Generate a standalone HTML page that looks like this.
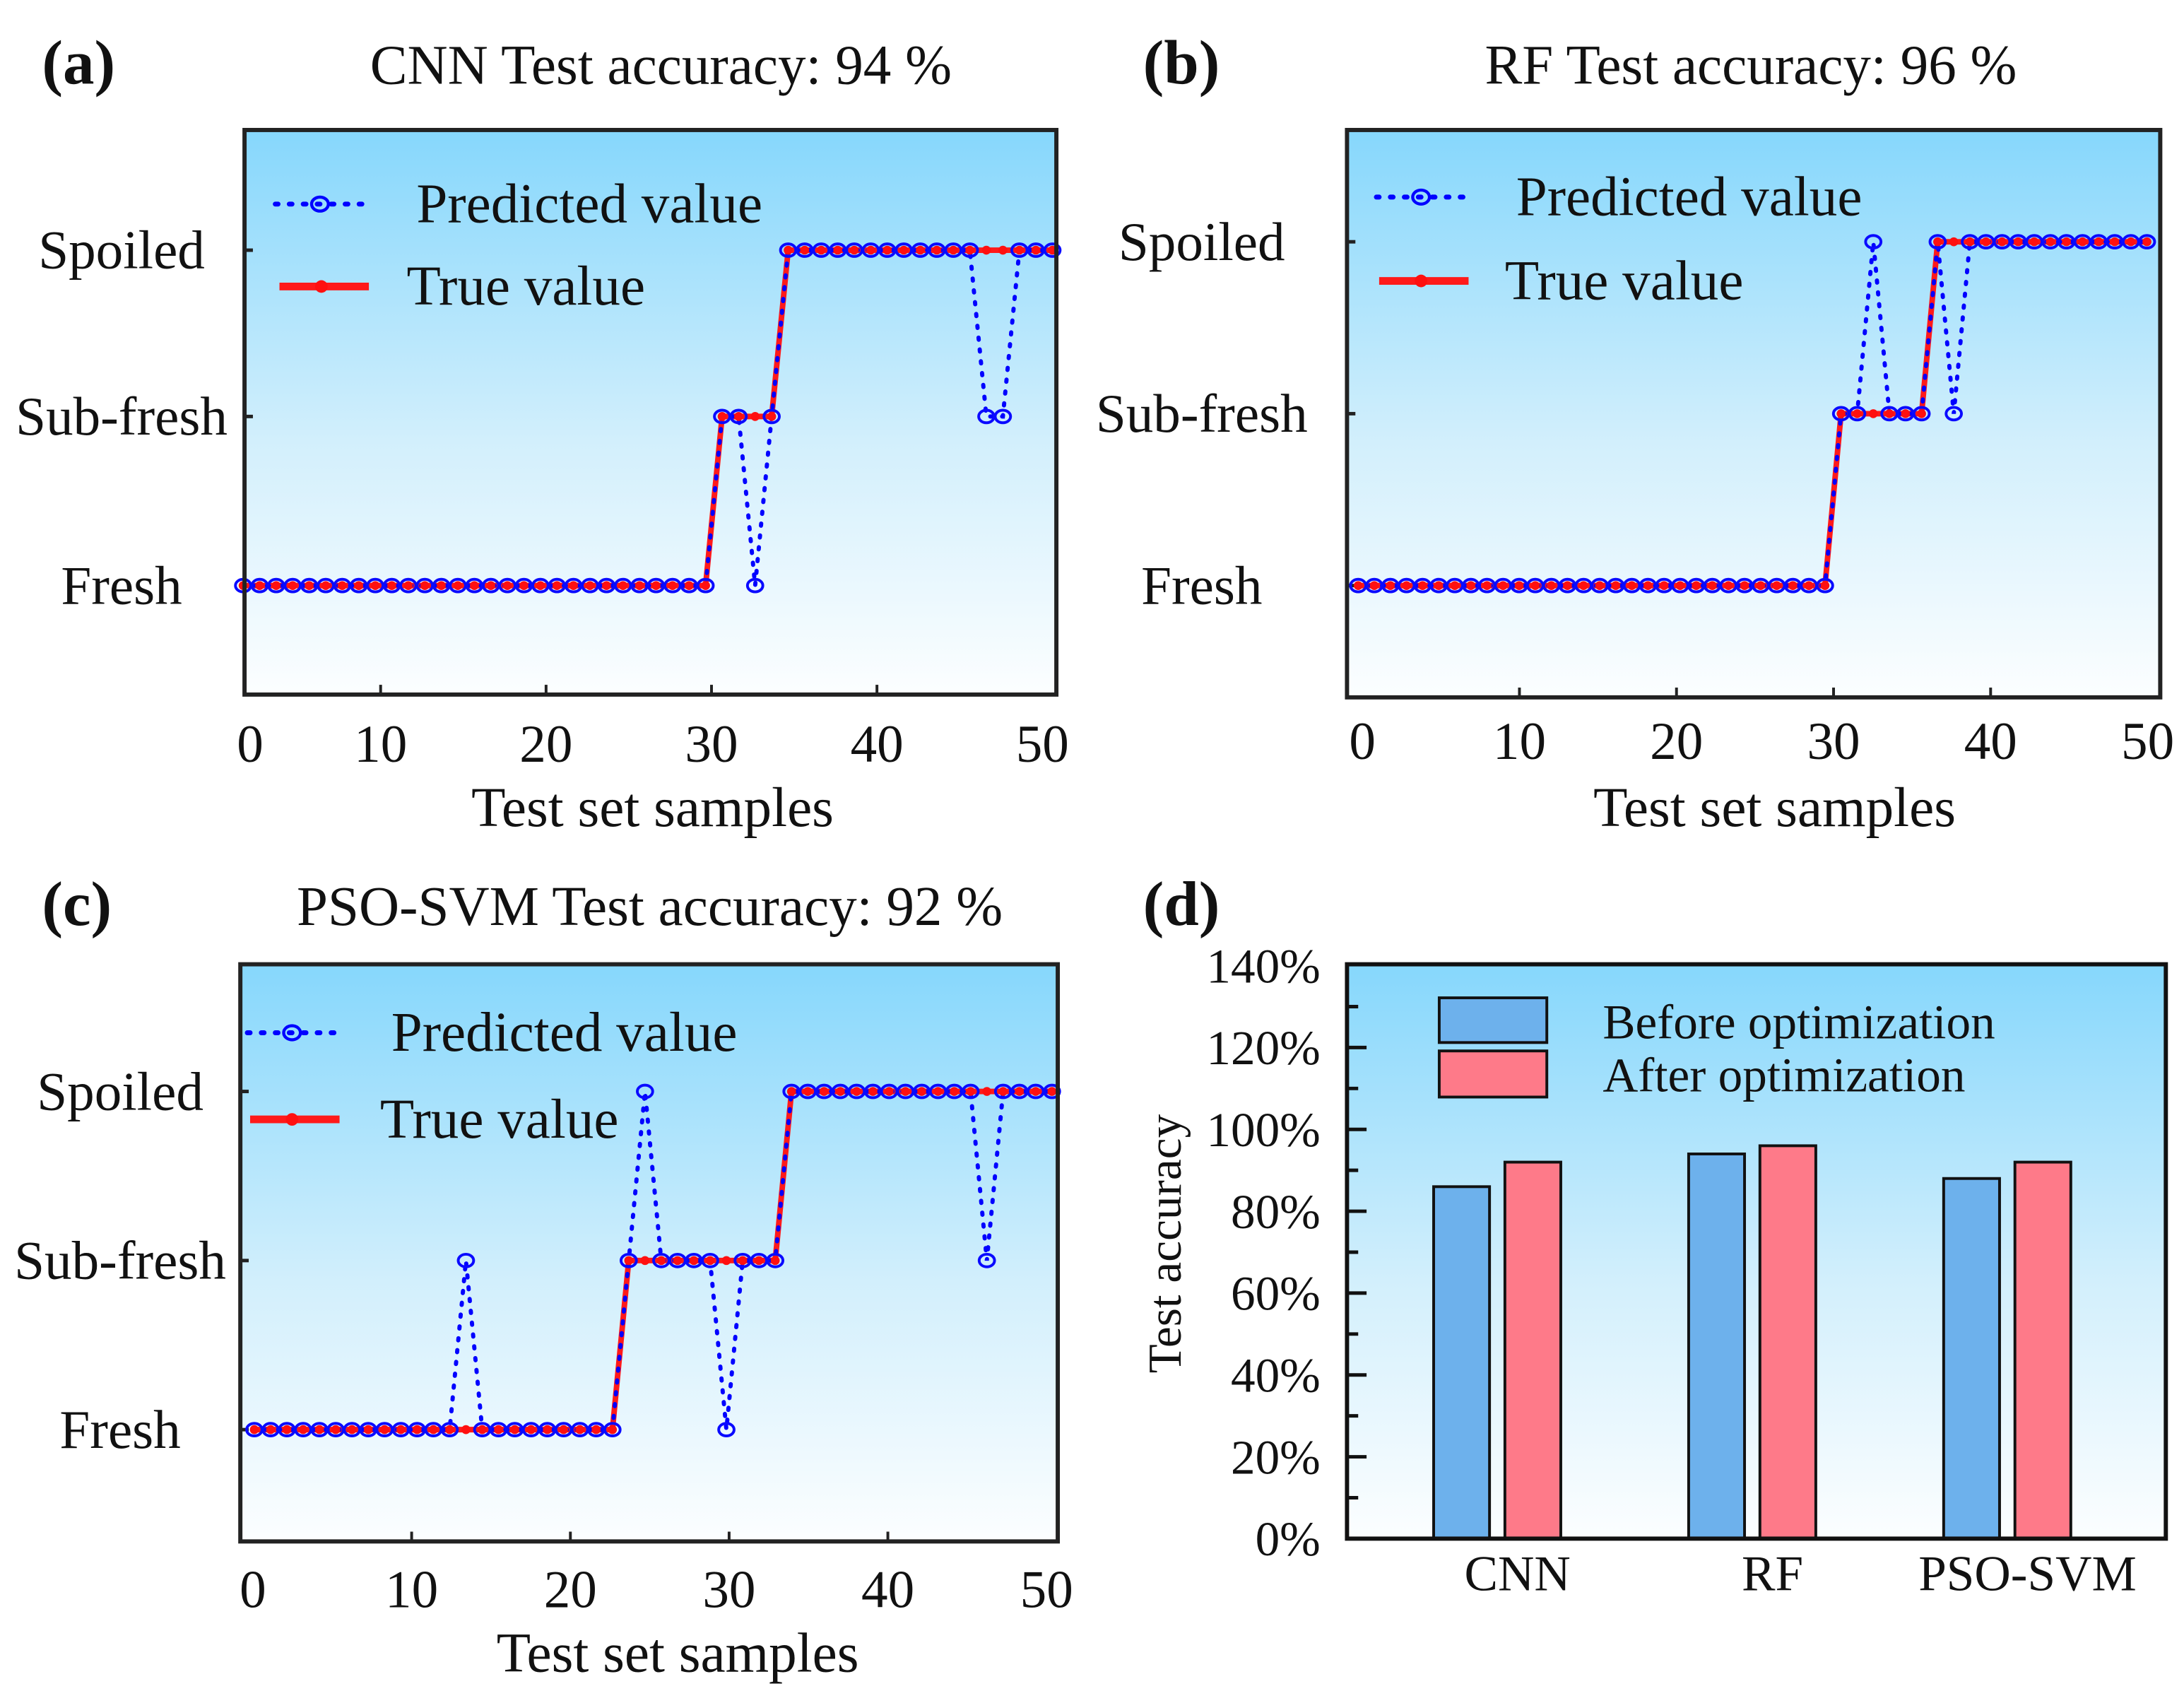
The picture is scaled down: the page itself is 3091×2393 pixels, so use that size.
<!DOCTYPE html>
<html><head><meta charset="utf-8">
<style>
html,body{margin:0;padding:0;background:#fff;}
svg{display:block;font-family:"Liberation Serif",serif;}
</style></head>
<body>
<svg id="fig" width="3091" height="2393" viewBox="0 0 1563 1210" xmlns="http://www.w3.org/2000/svg">
<defs>
<linearGradient id="bg" x1="0" y1="0" x2="0" y2="1">
<stop offset="0" stop-color="#86d7fc"/>
<stop offset="0.55" stop-color="#d2effc"/>
<stop offset="1" stop-color="#fcfeff"/>
</linearGradient>
</defs>
</svg>
<script>
// ---- data ----
const levelNames = ["Fresh","Sub-fresh","Spoiled"];
const trueA = [0,0,0,0,0,0,0,0,0,0,0,0,0,0,0,0,0,0,0,0,0,0,0,0,0,0,0,0,0,1,1,1,1,2,2,2,2,2,2,2,2,2,2,2,2,2,2,2,2,2];
const predA = [0,0,0,0,0,0,0,0,0,0,0,0,0,0,0,0,0,0,0,0,0,0,0,0,0,0,0,0,0,1,1,0,1,2,2,2,2,2,2,2,2,2,2,2,2,1,1,2,2,2];
const trueB = [0,0,0,0,0,0,0,0,0,0,0,0,0,0,0,0,0,0,0,0,0,0,0,0,0,0,0,0,0,0,1,1,1,1,1,1,2,2,2,2,2,2,2,2,2,2,2,2,2,2];
const predB = [0,0,0,0,0,0,0,0,0,0,0,0,0,0,0,0,0,0,0,0,0,0,0,0,0,0,0,0,0,0,1,1,2,1,1,1,2,1,2,2,2,2,2,2,2,2,2,2,2,2];
const trueC = [0,0,0,0,0,0,0,0,0,0,0,0,0,0,0,0,0,0,0,0,0,0,0,1,1,1,1,1,1,1,1,1,1,2,2,2,2,2,2,2,2,2,2,2,2,2,2,2,2,2];
const predC = [0,0,0,0,0,0,0,0,0,0,0,0,0,1,0,0,0,0,0,0,0,0,0,1,2,1,1,1,1,0,1,1,1,2,2,2,2,2,2,2,2,2,2,2,2,1,2,2,2,2];
const xTicks = [0,10,20,30,40,50];
const barCats = ["CNN","RF","PSO-SVM"];
const barBefore = [86,94,88];
const barAfter = [92,96,92];
const yTicksD = [0,20,40,60,80,100,120,140];

const NS="http://www.w3.org/2000/svg";
const svg=document.getElementById('fig');
function mk(tag,attrs,parent){const e=document.createElementNS(NS,tag);for(const k in attrs)e.setAttribute(k,attrs[k]);(parent||svg).appendChild(e);return e;}
function txt(s,attrs,parent){const e=mk('text',attrs,parent);e.textContent=s;return e;}

function linePanel(o){
  const g=mk('g',{});
  
  
  const r=mk('rect',{x:o.L,y:o.T,width:o.R-o.L,height:o.B-o.T,fill:'url(#bg)'},g);
  
  
  const yS=v=>o.ly[v];
  const pX=i=>o.p0+i*o.pstep;
  const tX=v=>o.t0+v*o.tstep;
  levelNames.forEach((n,k)=>{
    const tk=mk('line',{x1:o.L,x2:o.L+6,y1:yS(k),y2:yS(k),stroke:'#222','stroke-width':2.5},g);
    
    
    const t=txt(n,{x:o.ylx,y:yS(k)+13,'font-size':39,'text-anchor':'middle',fill:'#111'},g);
    
    
  });
  xTicks.forEach(v=>{
    const x=tX(v);
    if(v>0&&v<50){const tk=mk('line',{x1:x,x2:x,y1:o.B,y2:o.B-7,stroke:'#222','stroke-width':2},g);
      
      }
    const t=txt(String(v),{x:Math.max(x,o.L+4),y:o.xly,'font-size':38,'text-anchor':'middle',fill:'#111'},g);
    
    
  });
  let d='';o.tr.forEach((v,i)=>{d+=(i?'L':'M')+pX(i)+' '+yS(v);});
  const tl=mk('path',{d:d,fill:'none',stroke:'#ff1a1a','stroke-width':4},g);
  
  
  let d2='';o.pr.forEach((v,i)=>{d2+=(i?'L':'M')+pX(i)+' '+yS(v);});
  const pl=mk('path',{d:d2,fill:'none',stroke:'#0000ff','stroke-width':3,'stroke-dasharray':'1.5 7','stroke-linecap':'round'},g);
  
  
  o.pr.forEach((v,i)=>{
    const c=mk('ellipse',{cx:pX(i),cy:yS(v),rx:5.5,ry:4.5,fill:'none',stroke:'#0a0aff','stroke-width':2},g);
    
    
  });
  o.tr.forEach((v,i)=>{
    const c=mk('circle',{cx:pX(i),cy:yS(v),r:3.2,fill:'#ff1010'},g);
    
    
  });
  const bx=mk('rect',{x:o.L,y:o.T,width:o.R-o.L,height:o.B-o.T,fill:'none',stroke:'#222','stroke-width':3},g);
  
  
  const lg=mk('g',{},g);
  
  
  mk('line',{x1:o.lg[0],x2:o.lg[0]+64,y1:o.lg[1],y2:o.lg[1],stroke:'#0000ff','stroke-width':3.5,'stroke-dasharray':'2 8','stroke-linecap':'round'},lg);
  mk('ellipse',{cx:o.lg[0]+32,cy:o.lg[1],rx:6,ry:5,fill:'none',stroke:'#0000ff','stroke-width':2.2},lg);
  const t1=txt('Predicted value',{x:o.lg[2],y:o.lg[1]+13,'font-size':40,fill:'#111'},lg);
  
  
  mk('line',{x1:o.lg[3],x2:o.lg[3]+64,y1:o.lg[4],y2:o.lg[4],stroke:'#ff1a1a','stroke-width':5.5},lg);
  mk('circle',{cx:o.lg[3]+30,cy:o.lg[4],r:4.5,fill:'#ff1010'},lg);
  const t2=txt('True value',{x:o.lg[5],y:o.lg[4]+13,'font-size':40,fill:'#111'},lg);
  
  
  const ti=txt(o.title,{x:o.tcx,y:o.ty,'font-size':40,'text-anchor':'middle',fill:'#111'},g);
  
  
  const pl2=txt(o.label,{x:o.labx,y:o.ty,'font-size':45,'font-weight':'bold',fill:'#111'},g);
  
  
  const xt=txt('Test set samples',{x:o.xtx,y:o.xty,'font-size':40,'text-anchor':'middle',fill:'#111'},g);
  
  
}

linePanel({name:'panel-a-cnn',L:175,T:93,R:756,B:497,ly:[419,298,179],p0:174,pstep:11.82,t0:154,tstep:11.84,
  tr:trueA,pr:predA,ylx:87,xly:545,lg:[197,146,298,200,205,291],title:'CNN Test accuracy: 94 %',tcx:473,ty:60,label:'(a)',labx:30,xtx:467,xty:591});
linePanel({name:'panel-b-rf',L:964,T:93,R:1546,B:499,ly:[419,296,173],p0:972,pstep:11.52,t0:975,tstep:11.24,
  tr:trueB,pr:predB,ylx:860,xly:543,lg:[985,141,1085,987,201,1077],title:'RF Test accuracy: 96 %',tcx:1253,ty:60,label:'(b)',labx:818,xtx:1270,xty:591});
linePanel({name:'panel-c-pso-svm',L:172,T:690,R:757,B:1103,ly:[1023,902,781],p0:182,pstep:11.65,t0:181,tstep:11.36,
  tr:trueC,pr:predC,ylx:86,xly:1150,lg:[177,739,280,179,801,272],title:'PSO-SVM Test accuracy: 92 %',tcx:465,ty:662,label:'(c)',labx:30,xtx:485,xty:1196});

(function(){
  const L=964,T=690,R=1550,B=1101;
  const g=mk('g',{});
  
  
  const bg=mk('rect',{x:L,y:T,width:R-L,height:B-T,fill:'url(#bg)'},g);
  
  
  const y=v=>B-v*(B-691)/140;
  const cx=i=>1071+i*182.5;
  for(let v=10;v<140;v+=10){
    const tk=mk('line',{x1:L,x2:L+(v%20===0?14:8),y1:y(v),y2:y(v),stroke:'#111','stroke-width':2.5},g);
    
    
  }
  yTicksD.forEach(v=>{
    const t=txt(v+'%',{x:945,y:y(v)+12,'font-size':35,'text-anchor':'end',fill:'#111'},g);
    
    
  });
  barCats.forEach((c,i)=>{
    const b1=mk('rect',{x:cx(i)-45,y:y(barBefore[i]),width:40,height:B-y(barBefore[i]),fill:'#6db1ec',stroke:'#111','stroke-width':2},g);
    
    
    const b2=mk('rect',{x:cx(i)+6,y:y(barAfter[i]),width:40,height:B-y(barAfter[i]),fill:'#fe7a89',stroke:'#111','stroke-width':2},g);
    
    
    const t=txt(c,{x:cx(i)+15,y:1138,'font-size':36,'text-anchor':'middle',fill:'#111'},g);
    
    
  });
  const fr=mk('rect',{x:L,y:T,width:R-L,height:B-T,fill:'none',stroke:'#111','stroke-width':3},g);
  
  
  const lg=mk('g',{},g);
  
  
  mk('rect',{x:1030,y:714,width:77,height:32,fill:'#6db1ec',stroke:'#111','stroke-width':2},lg);
  mk('rect',{x:1030,y:752,width:77,height:33,fill:'#fe7a89',stroke:'#111','stroke-width':2},lg);
  const l1=txt('Before optimization',{x:1147,y:743,'font-size':35,fill:'#111'},lg);
  
  
  const l2=txt('After optimization',{x:1147,y:781,'font-size':35,fill:'#111'},lg);
  
  
  const yt=txt('Test accuracy',{x:0,y:0,'font-size':34,'text-anchor':'middle',fill:'#111',transform:'translate(845,890) rotate(-90)'},g);
  
  
  const pl=txt('(d)',{x:818,y:662,'font-size':45,'font-weight':'bold',fill:'#111'},g);
  
  
})();
</script>
</body></html>
